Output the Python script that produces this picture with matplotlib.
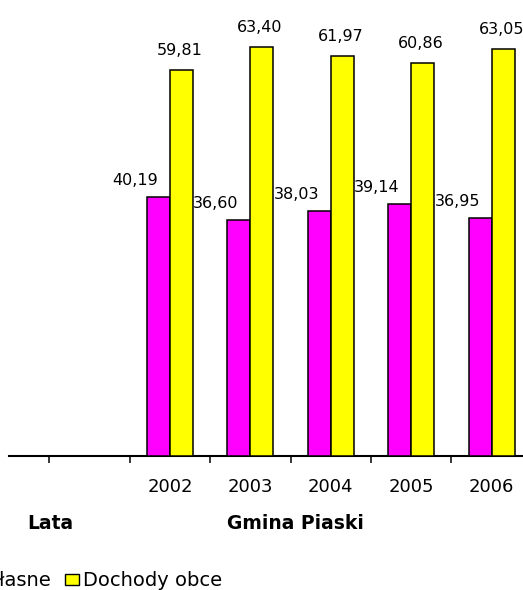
import matplotlib
matplotlib.use("Agg")
import matplotlib.pyplot as plt
from matplotlib.patches import Rectangle

years = ["2002", "2003", "2004", "2005", "2006"]
wlasne = [40.19, 36.60, 38.03, 39.14, 36.95]
obce = [59.81, 63.40, 61.97, 60.86, 63.05]
series_names = ["Dochody własne", "Dochody obce"]
colors = ["#FF00FF", "#FFFF00"]

plt.rcParams['font.family'] = ['DejaVu Sans']

W, H = 523, 590
fig = plt.figure(figsize=(W / 100, H / 100), dpi=100)
ax_left, ax_right, ax_bottom = 9, 523, 456
ax = fig.add_axes([ax_left / W, (H - ax_bottom) / H, (ax_right - ax_left) / W, ax_bottom / H])

bw = 0.286
xs = list(range(len(years)))
ax.bar([x - bw / 2 for x in xs], wlasne, width=bw, color=colors[0],
       edgecolor="black", linewidth=1.1, zorder=3)
ax.bar([x + bw / 2 for x in xs], obce, width=bw, color=colors[1],
       edgecolor="black", linewidth=1.1, zorder=3)

def fmt(v):
    return f"{v:.2f}".replace(".", ",")

for x, v in zip(xs, wlasne):
    ax.annotate(fmt(v), xy=(x - bw / 2, v), xytext=(-23, 9), textcoords="offset pixels",
                ha="center", va="bottom", fontsize=11.5, color="black")
for x, v in zip(xs, obce):
    ax.annotate(fmt(v), xy=(x + bw / 2, v), xytext=(-2, 12), textcoords="offset pixels",
                ha="center", va="bottom", fontsize=11.5, color="black")

ax.set_xlim(-2.0, 4.39)
ax.set_ylim(0, 70.7)
for s in ["left", "right", "top"]:
    ax.spines[s].set_visible(False)
ax.spines["bottom"].set_linewidth(1.5)
ax.set_yticks([])

ax.set_xticks([-1.5 + i for i in range(6)])
ax.set_xticklabels([])
ax.tick_params(axis="x", which="major", length=5, width=1.1, direction="out")
ax.set_xticks(xs, minor=True)
ax.set_xticklabels(years, minor=True, fontsize=13)
ax.tick_params(axis="x", which="minor", length=0, pad=16)

fig.text(50 / W, 1 - 523.5 / H, "Lata", ha="center", va="center",
         fontsize=13.5, fontweight="bold")
fig.text(295.5 / W, 1 - 523.5 / H, "Gmina Piaski", ha="center", va="center",
         fontsize=13.5, fontweight="bold")

# legend row
ly = 1 - 580 / H
fig.text(51 / W, ly, series_names[0], ha="right", va="center", fontsize=14)
fig.patches.append(Rectangle((65 / W, 1 - 585 / H), 14 / W, 11 / H, transform=fig.transFigure,
                             facecolor=colors[1], edgecolor="black", linewidth=1.0))
fig.text(83 / W, ly, series_names[1], ha="left", va="center", fontsize=14)

fig.savefig("out.png", dpi=100)
